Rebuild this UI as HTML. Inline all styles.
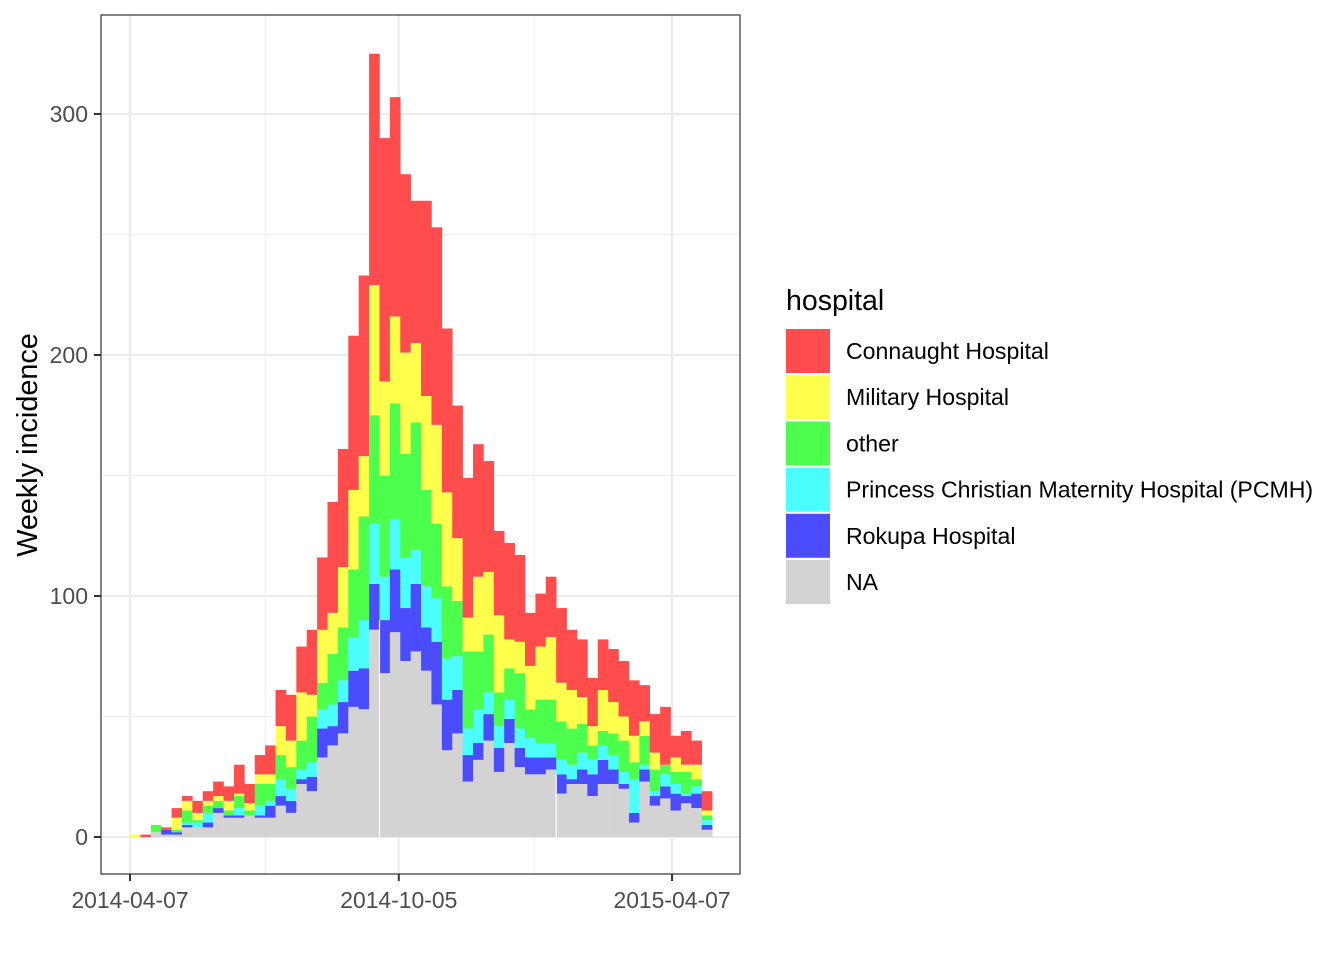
<!DOCTYPE html>
<html><head><meta charset="utf-8">
<style>
html,body{margin:0;padding:0;background:#fff;}
svg{display:block;font-family:"Liberation Sans",Arial,sans-serif;}
</style></head>
<body>
<svg id="chart" width="1344" height="960" viewBox="0 0 1344 960" xmlns="http://www.w3.org/2000/svg">
<rect x="0" y="0" width="1344" height="960" fill="#fff"/>
<g id="grid"></g>
<g id="bars"></g>
<g id="axes"></g>
<g id="legend"></g>
</svg>
<script>
const weekStart = "2014-04-07";
const naVals =        [0,0,2,1,1,4,4,4,10,8,8,9,8,8,13,10,22,19,33,38,43,54,53,86,68,85,73,77,69,55,36,43,23,32,40,27,39,29,26,26,28,18,22,22,17,22,22,20,6,23,13,16,11,14,12,3];
const rokupaVals =    [0,0,0,2,1,1,0,2,2,1,1,0,1,5,4,5,2,6,12,8,13,15,17,19,22,26,22,28,18,26,21,18,11,7,11,10,10,8,7,7,5,8,2,6,9,10,6,2,4,5,4,5,7,3,6,2];
const pcmhVals =      [0,0,0,0,0,1,2,4,0,0,3,0,4,2,7,5,4,6,8,9,9,14,20,25,18,21,21,14,17,18,17,14,11,14,9,9,8,8,8,6,6,6,6,7,6,6,6,5,14,2,2,5,4,1,3,2];
const otherVals =     [0,0,3,0,1,5,1,3,3,2,5,2,9,7,10,9,12,19,11,21,22,28,43,45,42,48,43,53,40,31,30,23,32,24,24,14,13,23,12,18,18,16,15,12,6,6,9,13,7,12,9,4,5,9,3,2];
const militaryVals =  [1,0,0,0,5,4,3,2,2,4,1,3,4,4,12,11,20,9,22,17,25,33,25,54,39,36,42,33,39,41,39,26,14,31,26,32,12,13,18,22,26,16,16,11,8,17,13,10,11,6,7,0,6,3,6,2];
const connaughtVals = [0,1,0,1,4,2,5,4,6,6,12,8,8,12,15,19,19,27,30,46,49,64,75,96,101,91,74,59,81,82,68,55,58,55,46,35,40,36,22,22,25,31,25,24,20,21,22,23,23,15,16,24,9,14,10,8];
const series = [naVals, rokupaVals, pcmhVals, otherVals, militaryVals, connaughtVals];
const seriesNames = ["na","rokupa-hospital","pcmh","other","military-hospital","connaught-hospital"];
const seriesColors = ["#d3d3d3","#4c4cff","#4cffff","#4cff4c","#ffff4c","#ff4c4c"];
const legendLabels = ["Connaught Hospital","Military Hospital","other","Princess Christian Maternity Hospital (PCMH)","Rokupa Hospital","NA"];
const legendColors = ["#ff4c4c","#ffff4c","#4cff4c","#4cffff","#4c4cff","#d3d3d3"];
const yTicks = [0,100,200,300];
const yMinor = [50,150,250];
const xTickLabels = ["2014-04-07","2014-10-05","2015-04-07"];
const xMinorDates = ["2014-07-07","2015-01-04"];

const NS="http://www.w3.org/2000/svg";
const P={l:101,r:740,t:15,b:874};
const t0=Date.UTC(2014,3,7);
function days(s){const p=s.split("-");return (Date.UTC(+p[0],+p[1]-1,+p[2])-t0)/86400000;}
function xs(d){return 130+d*1.485;}
function ys(v){return 837-v*2.41;}
function mk(tag,attrs,parent){const e=document.createElementNS(NS,tag);for(const k in attrs)e.setAttribute(k,attrs[k]);parent.appendChild(e);return e;}
const grid=document.getElementById('grid'),bars=document.getElementById('bars'),axes=document.getElementById('axes'),legend=document.getElementById('legend');

yMinor.forEach(v=>{const l=mk('line',{x1:P.l,x2:P.r,y1:ys(v),y2:ys(v),stroke:'#f0f0f0','stroke-width':1},grid);

});
xMinorDates.forEach(d=>{const l=mk('line',{x1:xs(days(d)),x2:xs(days(d)),y1:P.t,y2:P.b,stroke:'#f0f0f0','stroke-width':1},grid);

});
yTicks.forEach(v=>{const l=mk('line',{x1:P.l,x2:P.r,y1:ys(v),y2:ys(v),stroke:'#ebebeb','stroke-width':2},grid);

});
xTickLabels.forEach(d=>{const l=mk('line',{x1:xs(days(d)),x2:xs(days(d)),y1:P.t,y2:P.b,stroke:'#ebebeb','stroke-width':2},grid);

});

const bw=7*1.485;
const n=naVals.length;
for(let i=0;i<n;i++){
  const x0=xs(i*7);
  let cum=0;
  for(let s=0;s<series.length;s++){
    const v=series[s][i];
    if(v>0){
      const r=mk('rect',{x:x0,y:ys(cum+v),width:bw+0.3,height:v*2.41,fill:seriesColors[s]},bars);
      
      
    }
    cum+=v;
  }
}
[24,41].forEach(i=>{const l=mk('line',{x1:xs(i*7),x2:xs(i*7),y1:ys(naVals[i]+rokupaVals[i]),y2:837,stroke:'#fff','stroke-width':1.2},bars);

});

const border=mk('rect',{x:P.l,y:P.t,width:P.r-P.l,height:P.b-P.t,fill:'none',stroke:'#333','stroke-width':1.2},axes);


yTicks.forEach(v=>{
  const tk=mk('line',{x1:94,x2:P.l,y1:ys(v),y2:ys(v),stroke:'#333','stroke-width':2},axes);
  
  
  const t=mk('text',{x:88,y:ys(v)+8,'text-anchor':'end','font-size':23,fill:'#4d4d4d'},axes);
  t.textContent=String(v);
  
  
});
xTickLabels.forEach(d=>{
  const x=xs(days(d));
  const tk=mk('line',{x1:x,x2:x,y1:P.b,y2:P.b+7,stroke:'#333','stroke-width':2},axes);
  
  
  const t=mk('text',{x:x,y:908,'text-anchor':'middle','font-size':22.9,fill:'#4d4d4d'},axes);
  t.textContent=d;
  
  
});
const yt=mk('text',{x:0,y:0,'text-anchor':'middle','font-size':28.8,fill:'#000',transform:'translate(37,445) rotate(-90)'},axes);
yt.textContent='Weekly incidence';



const lt=mk('text',{x:786,y:310,'font-size':28.5,fill:'#000'},legend);
lt.textContent='hospital';


legendLabels.forEach((lab,k)=>{
  const y=329+k*46.2;
  const r=mk('rect',{x:786,y:y,width:44,height:44,fill:legendColors[k]},legend);
  
  
  const t=mk('text',{x:846,y:y+30,'font-size':23.1,fill:'#000'},legend);
  t.textContent=lab;
  
  
});
</script>
</body></html>
